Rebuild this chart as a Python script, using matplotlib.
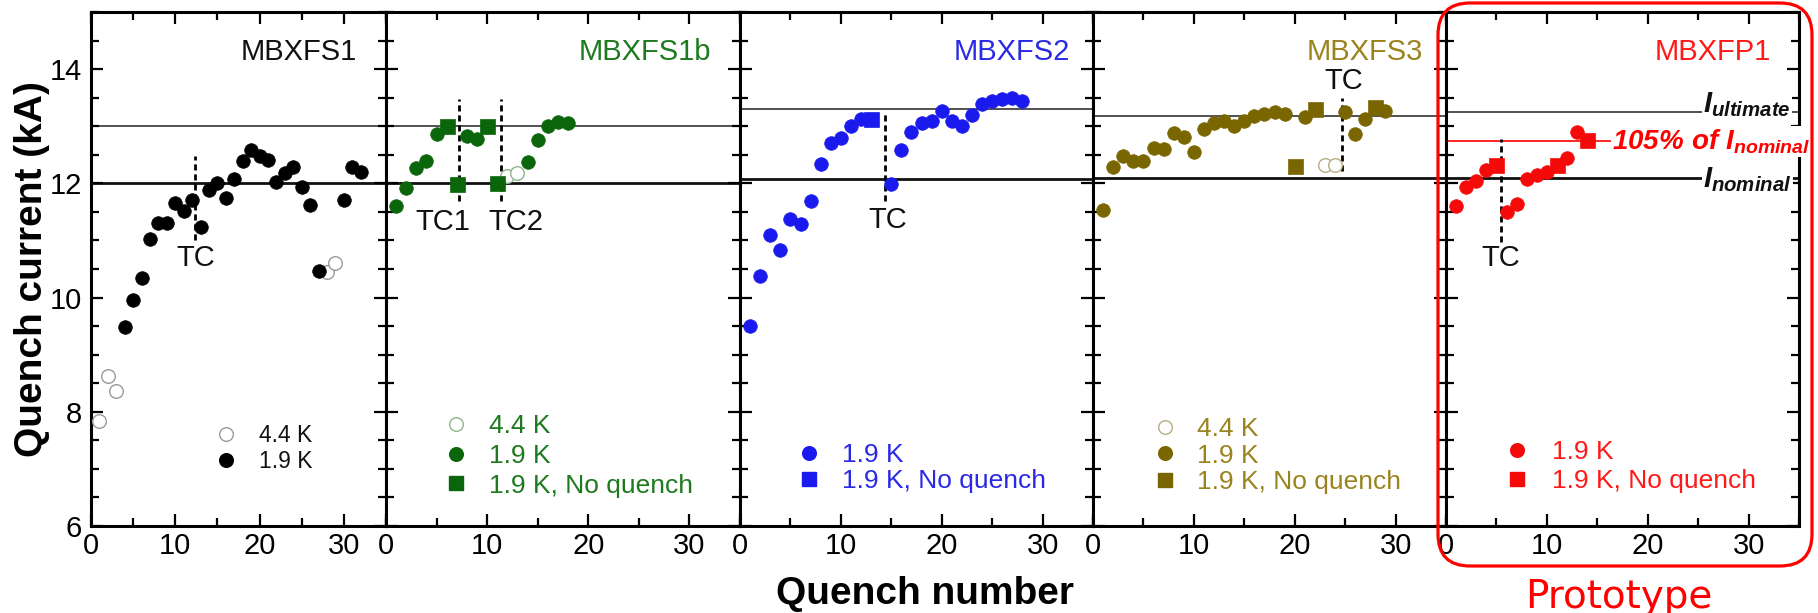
import matplotlib
matplotlib.use('Agg')
import matplotlib.pyplot as plt
from matplotlib.lines import Line2D
from matplotlib.patches import FancyBboxPatch
from matplotlib.transforms import IdentityTransform
from matplotlib.ticker import MultipleLocator

plt.rcParams['font.family'] = ['Liberation Sans', 'DejaVu Sans']
plt.rcParams['mathtext.fontset'] = 'custom'
plt.rcParams['mathtext.it'] = 'Liberation Sans:italic:bold'
plt.rcParams['mathtext.rm'] = 'Liberation Sans:italic:bold'
plt.rcParams['mathtext.bf'] = 'Liberation Sans:italic:bold'

# ---------------- data ----------------
magnets = ['MBXFS1', 'MBXFS1b', 'MBXFS2', 'MBXFS3', 'MBXFP1']

# MBXFS1
s1_44_x = [1, 2, 3, 28, 29]
s1_44_y = [7.84, 8.63, 8.37, 10.45, 10.61]
s1_19_x = [4, 5, 6, 7, 8, 9, 10, 11, 12, 13, 14, 15, 16, 17, 18, 19, 20, 21, 22, 23, 24, 25, 26, 27, 30, 31, 32]
s1_19_y = [9.48, 9.96, 10.35, 11.03, 11.31, 11.31, 11.66, 11.52, 11.71, 11.23, 11.89, 12.01, 11.74, 12.08,
           12.39, 12.58, 12.47, 12.41, 12.03, 12.18, 12.29, 11.93, 11.62, 10.47, 11.71, 12.29, 12.20]

# MBXFS1b
s1b_44_x = [12, 13]
s1b_44_y = [12.13, 12.18]
s1b_19_x = [1, 2, 3, 4, 5, 8, 9, 14, 15, 16, 17, 18]
s1b_19_y = [11.61, 11.91, 12.27, 12.39, 12.86, 12.83, 12.78, 12.37, 12.76, 13.01, 13.08, 13.05]
s1b_nq_x = [6, 7, 10, 11]
s1b_nq_y = [13.01, 11.99, 13.01, 12.00]

# MBXFS2
s2_19_x = [1, 2, 3, 4, 5, 6, 7, 8, 9, 10, 11, 12, 15, 16, 17, 18, 19, 20, 21, 22, 23, 24, 25, 26, 27, 28]
s2_19_y = [9.50, 10.38, 11.10, 10.84, 11.37, 11.28, 11.69, 12.33, 12.71, 12.80, 13.00, 13.12, 11.98,
           12.58, 12.90, 13.05, 13.09, 13.27, 13.09, 13.00, 13.19, 13.39, 13.44, 13.47, 13.49, 13.44]
s2_nq_x = [13]
s2_nq_y = [13.13]

# MBXFS3
s3_44_x = [23, 24]
s3_44_y = [12.32, 12.32]
s3_19_x = [1, 2, 3, 4, 5, 6, 7, 8, 9, 10, 11, 12, 13, 14, 15, 16, 17, 18, 19, 21, 25, 26, 27, 29]
s3_19_y = [11.54, 12.29, 12.48, 12.39, 12.39, 12.61, 12.60, 12.89, 12.82, 12.54, 12.95, 13.06, 13.09,
           13.01, 13.10, 13.18, 13.21, 13.25, 13.22, 13.17, 13.25, 12.86, 13.12, 13.27]
s3_nq_x = [20, 22, 28]
s3_nq_y = [12.30, 13.30, 13.33]

# MBXFP1
p1_19_x = [1, 2, 3, 4, 6, 7, 8, 9, 10, 12, 13]
p1_19_y = [11.60, 11.94, 12.04, 12.23, 11.49, 11.64, 12.07, 12.14, 12.20, 12.45, 12.90]
p1_nq_x = [5, 11, 14]
p1_nq_y = [12.32, 12.32, 12.76]

# reference currents per magnet (kA)
i_ultimate = [13.0, 13.0, 13.31, 13.18, 13.25]
i_nominal = [12.0, 12.0, 12.08, 12.09, 12.10]
i_105_proto = 12.75

# thermal-cycle markers: (x, y_low, y_high, label, label_x, label_y)
tc_marks = [
    [(12.35, 11.00, 12.48, 'TC', 12.4, 10.70)],
    [(7.2, 11.69, 13.48, 'TC1', 5.6, 11.32), (11.35, 11.69, 13.48, 'TC2', 12.8, 11.32)],
    [(14.4, 11.69, 13.24, 'TC', 14.6, 11.35)],
    [(24.7, 12.22, 13.50, 'TC', 24.9, 13.80)],
    [(5.43, 10.98, 12.77, 'TC', 5.4, 10.70)],
]

# ---------------- styles ----------------
mark_col = ['#000000', '#0b660b', '#1a1aee', '#7a6600', '#f50a0a']
text_col = ['#111111', '#1e7a1e', '#2a2ae6', '#9a8420', '#ff1a1a']
open_edge = ['#9a9a9a', '#8fb58f', '#1a1aee', '#b8ac80', '#f50a0a']
title_x = [31.5, 32.1, 32.7, 32.7, 32.2]

series = [
    [('44', s1_44_x, s1_44_y), ('19', s1_19_x, s1_19_y)],
    [('44', s1b_44_x, s1b_44_y), ('19', s1b_19_x, s1b_19_y), ('nq', s1b_nq_x, s1b_nq_y)],
    [('19', s2_19_x, s2_19_y), ('nq', s2_nq_x, s2_nq_y)],
    [('44', s3_44_x, s3_44_y), ('19', s3_19_x, s3_19_y), ('nq', s3_nq_x, s3_nq_y)],
    [('19', p1_19_x, p1_19_y), ('nq', p1_nq_x, p1_nq_y)],
]
labels_map = {'44': '4.4 K', '19': '1.9 K', 'nq': '1.9 K, No quench'}

# legend layout: marker x, first row centre y, row step (kA), fontsize, text start x
leg_layout = [
    (16.0, 7.59, 0.43, 16.5, 19.9),
    (6.9, 7.74, 0.535, 19, 10.2),
    (6.8, 7.23, 0.47, 19, 10.1),
    (7.1, 7.69, 0.48, 19, 10.3),
    (7.05, 7.28, 0.52, 19, 10.5),
]

W, H = 1818, 613
DPI = 100
fig = plt.figure(figsize=(W / DPI, H / DPI), dpi=DPI)
edges = [91, 386, 740, 1093, 1446, 1799]
y_bot_px, y_top_px = 526, 12

CIRC_MS = 9.8
SQ_MS = 10.8

for i in range(5):
    ax = fig.add_axes([edges[i] / W, (H - y_bot_px) / H, (edges[i + 1] - edges[i]) / W,
                       (y_bot_px - y_top_px) / H])
    ax.set_xlim(0, 35)
    ax.set_ylim(6, 15)
    ax.xaxis.set_major_locator(MultipleLocator(10))
    ax.xaxis.set_minor_locator(MultipleLocator(5))
    ax.yaxis.set_major_locator(MultipleLocator(2))
    ax.yaxis.set_minor_locator(MultipleLocator(0.5))
    ax.tick_params(which='both', direction='in', top=True, right=True, width=1.6, colors='k')
    ax.tick_params(which='major', length=8.6)
    ax.tick_params(which='minor', length=5.5)
    ax.tick_params(axis='x', which='major', labelsize=21, pad=4)
    ax.tick_params(axis='y', which='major', labelsize=21, pad=6.5)
    if i > 0:
        ax.tick_params(axis='y', labelleft=False)
    for sp in ax.spines.values():
        sp.set_linewidth(2.2)

    # reference lines
    ax.axhline(i_ultimate[i], color='#333333', lw=1.2, zorder=1)
    ax.axhline(i_nominal[i], color='#111111', lw=2.0, zorder=1)
    if i == 4:
        ax.axhline(i_105_proto, color='#ff0000', lw=1.2, zorder=1)

    handles, labs = [], []
    for kind, xs, ys in series[i]:
        if kind == '44':
            ax.plot(xs, ys, ls='none', marker='o', ms=CIRC_MS, mfc='white', mec=open_edge[i], mew=1.0, zorder=3)
            h = Line2D([], [], ls='none', marker='o', ms=CIRC_MS, mfc='white', mec=open_edge[i], mew=1.0)
        elif kind == '19':
            ax.plot(xs, ys, ls='none', marker='o', ms=CIRC_MS, mfc=mark_col[i], mec=mark_col[i], mew=0.5, zorder=3)
            h = Line2D([], [], ls='none', marker='o', ms=CIRC_MS, mfc=mark_col[i], mec=mark_col[i])
        else:
            ax.plot(xs, ys, ls='none', marker='s', ms=SQ_MS, mfc=mark_col[i], mec=mark_col[i], mew=0.5, zorder=3)
            h = Line2D([], [], ls='none', marker='s', ms=SQ_MS * 0.9, mfc=mark_col[i], mec=mark_col[i])
        handles.append(h)
        labs.append(labels_map[kind])

    # TC marks
    for (tx, y0, y1, tl, lx, ly) in tc_marks[i]:
        ax.plot([tx, tx], [y0, y1], color='k', lw=2.0, ls=(0, (2.2, 1.4)), zorder=2)
        ax.text(lx, ly, tl, fontsize=21, ha='center', va='center', color='#111111')

    # title
    ax.text(title_x[i], 14.3, magnets[i], fontsize=21, ha='right', va='center', color=text_col[i])

    # legend
    mx, my, step, fs, tx0 = leg_layout[i]
    fs_px = fs * DPI / 72
    hl = 1.0
    px_per_x = (edges[i + 1] - edges[i]) / 35.0
    px_per_y = (y_bot_px - y_top_px) / 9.0
    text_h = 0.94 * fs_px
    row_px = step * px_per_y
    lsp = (row_px - text_h) / fs_px
    gap_px = (tx0 - mx) * px_per_x
    htp = (gap_px - hl * fs_px / 2) / fs_px
    x_start = mx - (hl * fs_px / 2) / px_per_x
    y_top = my + (text_h / 2) / px_per_y
    ax.legend(handles, labs, loc='upper left', bbox_to_anchor=(x_start, y_top),
              bbox_transform=ax.transData, frameon=False, fontsize=fs,
              labelcolor=text_col[i], handlelength=hl, handletextpad=htp,
              labelspacing=lsp, borderpad=0, borderaxespad=0, handleheight=0.7)

    if i == 0:
        ax.set_yticks([6, 8, 10, 12, 14])
    if i == 4:
        bb = dict(boxstyle='square,pad=0.05', fc='white', ec='none')
        ax.text(25.5, i_ultimate[i], r'$I_{ultimate}$', fontsize=21, ha='left', va='baseline',
                color='#111111', bbox=bb, zorder=4)
        ax.text(25.5, 11.93, r'$I_{nominal}$', fontsize=21, ha='left', va='baseline',
                color='#111111', bbox=bb, zorder=4)
        ax.text(16.5, 12.60, r'$105\%\ of\ I_{nominal}$', fontsize=20, ha='left', va='baseline',
                color='#ff0000', bbox=bb, zorder=4)

fig.text(32 / W, 1 - 269 / H, 'Quench current (kA)', rotation=90, fontsize=28,
         fontweight='bold', ha='center', va='center')
fig.text(925 / W, 1 - 594 / H, 'Quench number', fontsize=28, fontweight='bold',
         ha='center', va='center')

box = FancyBboxPatch((1438, H - 566), 374, 563, boxstyle='round,pad=0,rounding_size=32',
                     transform=IdentityTransform(), fc='none', ec='#ff0000', lw=2.3)
fig.add_artist(box)
fig.text(1619 / W, 1 - 597 / H, 'Prototype', fontsize=28, color='#ff0000',
         family='DejaVu Sans', ha='center', va='center')

fig.savefig('out.png', dpi=DPI)
